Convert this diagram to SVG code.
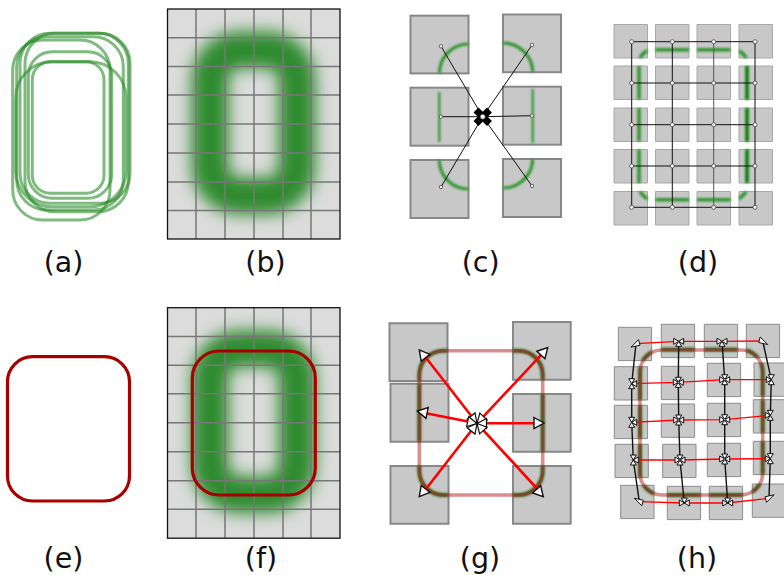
<svg xmlns="http://www.w3.org/2000/svg" width="784" height="575" viewBox="0 0 784 575">
<style>
text{font-family:"DejaVu Sans",sans-serif;font-size:28.5px;fill:#111;text-anchor:middle}
.ra{fill:none;stroke:#2a8c2a;stroke-opacity:.6;stroke-width:3}
.ring{fill:none;stroke:#2e8b2e;stroke-width:37;filter:url(#bl)}
.cell{fill:#dcdcdc}
.grid{fill:none;stroke:#777;stroke-width:1.5}
.bd{fill:none;stroke:#111;stroke-width:1.3}
.sq{fill:#c8c8c8;stroke:#888;stroke-width:2}
.sd{fill:#c8c8c8;stroke:#a8a8a8;stroke-width:1}
.sh{fill:#c8c8c8;stroke:#8c8c8c;stroke-width:1}
.gr{fill:none;stroke:#2d962d;stroke-width:3.2;filter:url(#b1)}
.gd{fill:none;stroke:#2d962d;stroke-width:3.6}
.gh{fill:none;stroke:#2a7020;stroke-width:4}
.red{fill:none;stroke:#a80000;stroke-width:3.2}
.pink{fill:none;stroke:#b02020;stroke-opacity:.5;stroke-width:3.6}
.bl{fill:none;stroke:#111;stroke-width:1}
.blh{fill:none;stroke:#111;stroke-width:1.4}
.rl{fill:none;stroke:#f00;stroke-width:2.6}
.rh{fill:none;stroke:#f00;stroke-width:1.3}
.tr{fill:#fff;stroke:#111;stroke-width:1.4;stroke-linejoin:miter}
.dot{fill:#fff;stroke:#444;stroke-width:.8}
.nd{fill:#fff;stroke:#111;stroke-width:1;stroke-linejoin:round}
</style>
<defs>
<filter id="bl" x="-40%" y="-40%" width="180%" height="180%"><feGaussianBlur stdDeviation="8"/></filter>
<filter id="b1" x="-30%" y="-30%" width="160%" height="160%"><feGaussianBlur stdDeviation=".8"/></filter>
<path id="tl" d="M-5-3 0 0-5 3Z"/>
<path id="tr" d="M5-3 0 0 5 3Z"/>
<path id="tt" d="M-3-5 0 0 3-5Z"/>
<path id="tb" d="M-3 5 0 0 3 5Z"/>
<g id="nh" class="nd"><use href="#tl"/><use href="#tr"/><use href="#tt"/><use href="#tb"/><circle r="1.100" fill="#fff"/></g>
<g id="nb" class="nd"><use href="#tl"/><use href="#tr"/><use href="#tb"/></g>
<g id="nv" class="nd"><use href="#tt"/><use href="#tb"/><use href="#tr"/></g>
<path id="nc" class="nd" d="M-5 3.500 2.500-4 4 1.500Z"/>
<path id="tip" d="M0-5.500 10 0 0 5.500Z" class="tr"/>
<path id="pet" d="M0 0 9.500-5 9.500 5Z" class="tr" style="stroke-width:1.200"/>
<path id="gridb" d="M196 9V239M225 9V239M254 9V239M283 9V239M311 9V239M167.500 37.700H340M167.500 66.500H340M167.500 95H340M167.500 124H340M167.500 153H340M167.500 182H340M167.500 210.500H340" class="grid"/>
<path id="sqd" d="M614 24.500h33.500v33.500h-33.500zM655.500 24.500h33.500v33.500h-33.500zM697 24.500h33.500v33.500h-33.500zM739 24.500h33.500v33.500h-33.500zM614 66h33.500v33.500h-33.500zM655.500 66h33.500v33.500h-33.500zM697 66h33.500v33.500h-33.500zM739 66h33.500v33.500h-33.500zM614 108h33.500v33.500h-33.500zM655.500 108h33.500v33.500h-33.500zM697 108h33.500v33.500h-33.500zM739 108h33.500v33.500h-33.500zM614 149.500h33.500v33.500h-33.500zM655.500 149.500h33.500v33.500h-33.500zM697 149.500h33.500v33.500h-33.500zM739 149.500h33.500v33.500h-33.500zM614 191.500h33.500v33.500h-33.500zM655.500 191.500h33.500v33.500h-33.500zM697 191.500h33.500v33.500h-33.500zM739 191.500h33.500v33.500h-33.500z"/>
<path id="sqg" d="M389.500 323.300h58v57.700h-58zM513 322h57.700v57.700h-57.700zM390.500 383.700h58v58h-58zM513 394h57.700v57.700h-57.700zM390.500 466h58v57.700h-58zM513 466h57.700v57.700h-57.700z"/>
<path id="sqh" d="M618.300 327.300h33.300v33.300h-33.300zM661.300 324.300h33.300v33.300h-33.300zM704.300 324.300h33.300v33.300h-33.300zM746.300 324.300h33.300v33.300h-33.300zM614.300 366.700h33.300v33.300h-33.300zM661.300 366.300h33.300v33.300h-33.300zM707.300 363.300h33.300v33.300h-33.300zM754 363h33.300v33.300h-33.300zM614.300 405.300h33.300v33.300h-33.300zM661.300 404h33.300v33.300h-33.300zM707.300 403.300h33.300v33.300h-33.300zM753.300 399.700h33.300v33.300h-33.300zM615 444.300h33.300v33.300h-33.300zM662.700 444.300h33.300v33.300h-33.300zM707.300 443.300h33.300v33.300h-33.300zM753.300 441.300h33.300v33.300h-33.300zM620.700 485.300h33.300v33.300h-33.300zM667.300 486.300h33.300v33.300h-33.300zM709.300 486.300h33.300v33.300h-33.300zM752.300 484h33.300v33.300h-33.300z"/>
<clipPath id="cd"><use href="#sqd"/></clipPath>
<clipPath id="cg"><use href="#sqg"/></clipPath>
<clipPath id="ch"><use href="#sqh"/></clipPath>
</defs>

<g id="a">
<rect class="ra" x="32.300" y="61.700" width="71.700" height="131.600" rx="18"/>
<rect class="ra" x="28.300" y="51.700" width="83.400" height="146.600" rx="24"/>
<rect class="ra" x="15.700" y="61.700" width="110.300" height="145" rx="36"/>
<rect class="ra" x="12.700" y="40" width="97.300" height="180" rx="30"/>
<rect class="ra" x="20" y="33.300" width="110" height="170" rx="30"/>
<rect class="ra" x="16.700" y="36.700" width="106.600" height="173.300" rx="30"/>
<rect class="ra" x="25" y="33.300" width="103.300" height="178.400" rx="30"/>
</g>

<g id="b">
<rect class="cell" x="167.500" y="9" width="172.500" height="230"/>
<rect class="ring" x="210" y="50" width="87" height="146" rx="30"/>
<use href="#gridb"/>
<rect class="bd" x="167.500" y="9" width="172.500" height="230"/>
</g>

<g id="c">
<rect class="sq" x="410.500" y="15.700" width="58" height="57.700"/>
<rect class="sq" x="503" y="14.500" width="58" height="57.700"/>
<rect class="sq" x="410.500" y="87.700" width="58" height="58"/>
<rect class="sq" x="503" y="86.700" width="58" height="58"/>
<rect class="sq" x="410.500" y="160" width="58" height="58"/>
<rect class="sq" x="503" y="159" width="58" height="58"/>
<path class="gr" d="M439.500 73A29 29 0 0 1 468.500 44M503 43A29.500 29.500 0 0 1 532.700 72"/>
<path class="gr" style="stroke-width:2.200" d="M439.300 92V142M532.700 89V143"/>
<path class="gr" d="M439.300 160A29 29 0 0 0 468.500 189M532.700 159A29.500 29.500 0 0 1 503 188"/>
</g>

<g id="d">
<use href="#sqd" class="sd"/>
<g filter="url(#b1)"><g clip-path="url(#cd)">
<rect class="gd" x="639" y="49.700" width="108" height="150" rx="14"/>
<path class="gd" style="stroke:#0a820a" d="M747 64V185"/>
</g></g>
</g>

<g id="e"><rect class="red" x="7.500" y="356.700" width="122" height="144.300" rx="25"/></g>

<g id="f">
<rect class="cell" x="167.500" y="307.700" width="172.500" height="230.500"/>
<rect class="ring" x="210" y="348.700" width="87" height="146" rx="30"/>
<use href="#gridb" y="298.700"/>
<rect class="bd" x="167.500" y="307.700" width="172.500" height="230.500"/>
<rect class="red" x="192.300" y="351" width="123" height="144" rx="27"/>
</g>

<g id="g">
<use href="#sqg" class="sq"/>
<g filter="url(#b1)"><g clip-path="url(#cg)"><rect class="gh" x="419.300" y="350.700" width="123.400" height="144.300" rx="24"/></g></g>
<rect class="pink" x="419.300" y="350.700" width="123.400" height="144.300" rx="24"/>
</g>

<g id="h">
<use href="#sqh" class="sh"/>
<g filter="url(#b1)"><g clip-path="url(#ch)"><rect class="gh" x="640" y="349.500" width="122.700" height="145.500" rx="22"/></g></g>
<rect class="pink" x="640" y="350" width="122.700" height="145" rx="22"/>
</g>

<g id="connectors">
<path class="bl" d="M482.700 116.700 441 46.300M482.700 116.700 532 45M482.700 116.700H441M482.700 116.700 532 115.700M482.700 116.700 441 187M482.700 116.700 532 186"/>
<path d="M476 110 489.500 123.500M489.500 110 476 123.500" stroke="#000" stroke-width="7" fill="none"/>
<circle class="dot" cx="482.700" cy="116.700" r="2.500"/>
<g class="dot"><circle cx="441" cy="46.300" r="1.700"/><circle cx="532" cy="45" r="1.700"/><circle cx="441" cy="116.700" r="1.700"/><circle cx="532" cy="115.700" r="1.700"/><circle cx="441" cy="187" r="1.700"/><circle cx="532" cy="186" r="1.700"/></g>

<path class="bl" d="M631.700 41.700H755V207.300H631.700ZM672.300 41.700V207.300M631.700 83H755M631.700 124.700H755M631.700 166H755"/>
<path d="M713.700 41.700V207.300" fill="none" stroke="#555" stroke-width="1"/>
<g class="dot">
<circle cx="631.700" cy="41.700" r="2"/><circle cx="672.300" cy="41.700" r="2"/><circle cx="713.700" cy="41.700" r="2"/><circle cx="755" cy="41.700" r="2"/>
<circle cx="631.700" cy="83" r="2"/><circle cx="672.300" cy="83" r="2"/><circle cx="713.700" cy="83" r="2"/><circle cx="755" cy="83" r="2"/>
<circle cx="631.700" cy="124.700" r="2"/><circle cx="672.300" cy="124.700" r="2"/><circle cx="713.700" cy="124.700" r="2"/><circle cx="755" cy="124.700" r="2"/>
<circle cx="631.700" cy="166" r="2"/><circle cx="672.300" cy="166" r="2"/><circle cx="713.700" cy="166" r="2"/><circle cx="755" cy="166" r="2"/>
<circle cx="631.700" cy="207.300" r="2"/><circle cx="672.300" cy="207.300" r="2"/><circle cx="713.700" cy="207.300" r="2"/><circle cx="755" cy="207.300" r="2"/>
</g>

<path class="rl" d="M477 423.300 423.300 354.300M477 423.300 543.300 352.700M477 423.300 423.300 412.700M477 423.300H539.300M477 423.300 425 490.300M477 423.300 538.300 490"/>
<use href="#tip" transform="translate(425.500 357.800) rotate(-128.500)"/>
<use href="#tip" transform="translate(540.900 355) rotate(-47)"/>
<use href="#tip" transform="translate(427.100 413) rotate(191.600)"/>
<use href="#tip" transform="translate(534 423)"/>
<use href="#tip" transform="translate(425.500 488.900) rotate(128.500)"/>
<use href="#tip" transform="translate(536.600 489.300) rotate(48)"/>
<g transform="translate(477 423.500)">
<use href="#pet" transform="rotate(-128.500)"/><use href="#pet" transform="rotate(-47)"/><use href="#pet" transform="rotate(191.600)"/><use href="#pet"/><use href="#pet" transform="rotate(128.500)"/><use href="#pet" transform="rotate(48)"/>
</g>

<path class="blh" d="M636 343.700 631.700 383.700V422.300L633.300 460 639.300 501.700M678.700 341.300 678.300 382.300 678.700 420 680 460 684.300 503M722 341.300 724.700 379.700V419.700V459L727.700 503M762.700 341 771.300 379.700 770.300 415.300V458.700L769 498.300"/>
<path class="rh" d="M636 343.700 678.700 341.300H722L762.700 341M631.700 383.700 678.300 382.300 724.700 379.700H771.300M631.700 422.300 678.700 420 724.700 419.700 770.300 415.300M633.300 460H680L724.700 459 770.300 458.700M639.300 501.700 684.300 503H727.700L769 498.300"/>
<use href="#nc" transform="translate(636 343.700)"/><use href="#nb" x="678.700" y="341.300"/><use href="#nb" x="722" y="341.300"/><use href="#nc" transform="translate(762.700 341) scale(-1 1)"/>
<use href="#nv" x="631.700" y="383.700"/><use href="#nh" x="678.300" y="382.300"/><use href="#nh" x="724.700" y="379.700"/><use href="#nv" transform="translate(771.300 379.700) scale(-1 1)"/>
<use href="#nv" x="631.700" y="422.300"/><use href="#nh" x="678.700" y="420"/><use href="#nh" x="724.700" y="419.700"/><use href="#nv" transform="translate(770.300 415.300) scale(-1 1)"/>
<use href="#nv" x="633.300" y="460"/><use href="#nh" x="680" y="460"/><use href="#nh" x="724.700" y="459"/><use href="#nv" transform="translate(770.300 458.700) scale(-1 1)"/>
<use href="#nc" transform="translate(639.300 501.700) scale(1 -1)"/><use href="#nb" transform="translate(684.300 503) scale(1 -1)"/><use href="#nb" transform="translate(727.700 503) scale(1 -1)"/><use href="#nc" transform="translate(769 498.300) scale(-1 -1)"/>
</g>

<g id="labels">
<text x="63.500" y="272">(a)</text><text x="265.500" y="272">(b)</text><text x="480.700" y="272">(c)</text><text x="698" y="272">(d)</text>
<text x="63.500" y="568">(e)</text><text x="261" y="568">(f)</text><text x="480" y="568">(g)</text><text x="697" y="568">(h)</text>
</g>
</svg>
